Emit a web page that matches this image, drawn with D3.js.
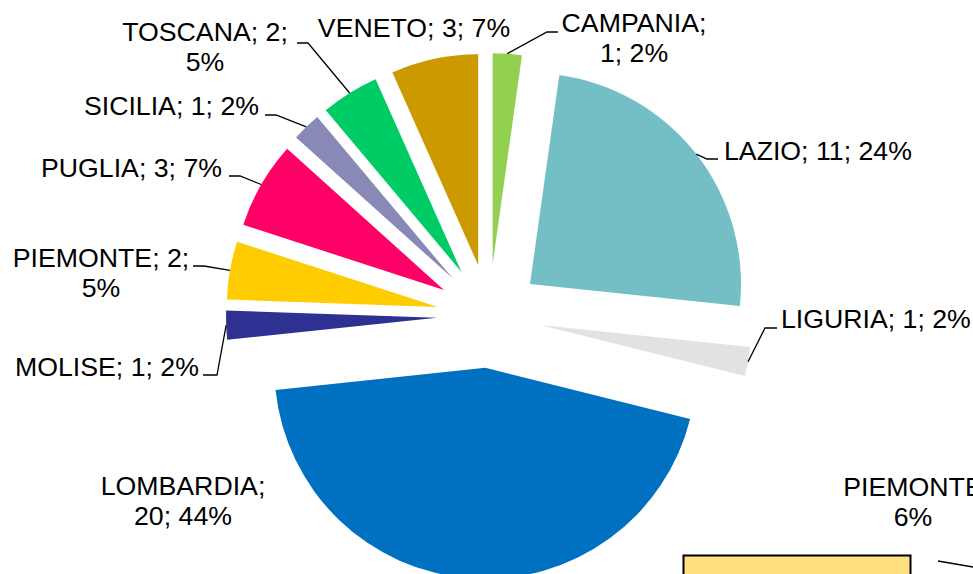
<!DOCTYPE html>
<html>
<head>
<meta charset="utf-8">
<script src="https://cdn.jsdelivr.net/npm/d3@7"></script>
<style>
  html, body { margin: 0; padding: 0; background: #fff; overflow: hidden; }
  text { font-family: "Liberation Sans", Arial, sans-serif; font-size: 26.7px; fill: #000; }
</style>
</head>
<body>
<div id="chart"></div>
<script>
// data
const regions = ["CAMPANIA", "LAZIO", "LIGURIA", "LOMBARDIA", "MOLISE",
  "PIEMONTE", "PUGLIA", "SICILIA", "TOSCANA", "VENETO"];
const counts = [1, 11, 1, 20, 1, 2, 3, 1, 2, 3];
const percents = ["2%", "24%", "2%", "44%", "2%", "5%", "7%", "2%", "5%", "7%"];
const colors = ["#92D050", "#74BFC5", "#E2E2E2", "#0070C0", "#2E3192",
  "#FFCC00", "#FF0066", "#8989B7", "#00CC66", "#CC9900"];

// where the labels sit (lines of text, anchor, x, first baseline, leader elbow)
const labelLayout = {
  CAMPANIA:  { lines: ["CAMPANIA;", "1; 2%"], anchor: "middle", x: 634, y: 32, elbow: [547, 32], end: 558 },
  LAZIO:     { lines: ["LAZIO; 11; 24%"], anchor: "start", x: 724, y: 160, elbow: [707, 159], end: 718 },
  LIGURIA:   { lines: ["LIGURIA; 1; 2%"], anchor: "start", x: 781, y: 328, elbow: [765, 328], end: 777 },
  LOMBARDIA: { lines: ["LOMBARDIA;", "20; 44%"], anchor: "middle", x: 183, y: 495 },
  MOLISE:    { lines: ["MOLISE; 1; 2%"], anchor: "start", x: 15, y: 376, elbow: [217, 375], end: 203 },
  PIEMONTE:  { lines: ["PIEMONTE; 2;", "5%"], anchor: "middle", x: 101, y: 267, elbow: [204, 266], end: 193 },
  PUGLIA:    { lines: ["PUGLIA; 3; 7%"], anchor: "end", x: 222, y: 177, elbow: [240, 176], end: 229 },
  SICILIA:   { lines: ["SICILIA; 1; 2%"], anchor: "end", x: 259, y: 115, elbow: [276, 115], end: 265 },
  TOSCANA:   { lines: ["TOSCANA; 2;", "5%"], anchor: "middle", x: 205, y: 41, elbow: [308, 43], end: 297 },
  VENETO:    { lines: ["VENETO; 3; 7%"], anchor: "middle", x: 414, y: 37 }
};

const width = 973, height = 574;
const cx = 489, cy = 316, radius = 211, explode = 52, lineHeight = 30;

const svg = d3.select("#chart").append("svg")
  .attr("width", width)
  .attr("height", height);

const data = regions.map((r, i) => ({ region: r, count: counts[i], pct: percents[i], color: colors[i] }));

const pie = d3.pie().sort(null).value(d => d.count);
const arc = d3.arc().innerRadius(0).outerRadius(radius);
const arcs = pie(data);

const g = svg.append("g").attr("transform", `translate(${cx},${cy})`);

// exploded slices
function offset(d) {
  const a = (d.startAngle + d.endAngle) / 2;
  return [Math.sin(a) * explode, -Math.cos(a) * explode];
}

g.selectAll("path.slice")
  .data(arcs)
  .join("path")
  .attr("class", "slice")
  .attr("d", arc)
  .attr("fill", d => d.data.color)
  .attr("transform", d => `translate(${offset(d)})`);

// leader lines
arcs.forEach(d => {
  const lay = labelLayout[d.data.region];
  if (!lay.elbow) return;
  const a = (d.startAngle + d.endAngle) / 2;
  const [ox, oy] = offset(d);
  const px = cx + ox + Math.sin(a) * radius;
  const py = cy + oy - Math.cos(a) * radius;
  svg.append("path")
    .attr("d", d3.line()([[px, py], lay.elbow, [lay.end, lay.elbow[1]]]))
    .attr("fill", "none")
    .attr("stroke", "#000")
    .attr("stroke-width", 1.3);
});

// labels
arcs.forEach(d => {
  const lay = labelLayout[d.data.region];
  const t = svg.append("text")
    .attr("text-anchor", lay.anchor)
    .attr("x", lay.x)
    .attr("y", lay.y);
  lay.lines.forEach((l, i) => {
    t.append("tspan")
      .attr("x", lay.x)
      .attr("dy", i === 0 ? 0 : lineHeight)
      .text(l);
  });
});

// edge of the neighbouring chart, cut off by the frame
const other = svg.append("g");
other.append("rect")
  .attr("x", 683.5).attr("y", 555.5)
  .attr("width", 227).attr("height", 40)
  .attr("fill", "#FFDF7F")
  .attr("stroke", "#000")
  .attr("stroke-width", 2);
other.append("path")
  .attr("d", d3.line()([[938, 561], [973, 567]]))
  .attr("stroke", "#000")
  .attr("stroke-width", 1.3);
const t2 = other.append("text").attr("text-anchor", "middle").attr("x", 913).attr("y", 496);
t2.append("tspan").attr("x", 913).text("PIEMONTE");
t2.append("tspan").attr("x", 913).attr("dy", lineHeight).text("6%");
</script>
</body>
</html>
